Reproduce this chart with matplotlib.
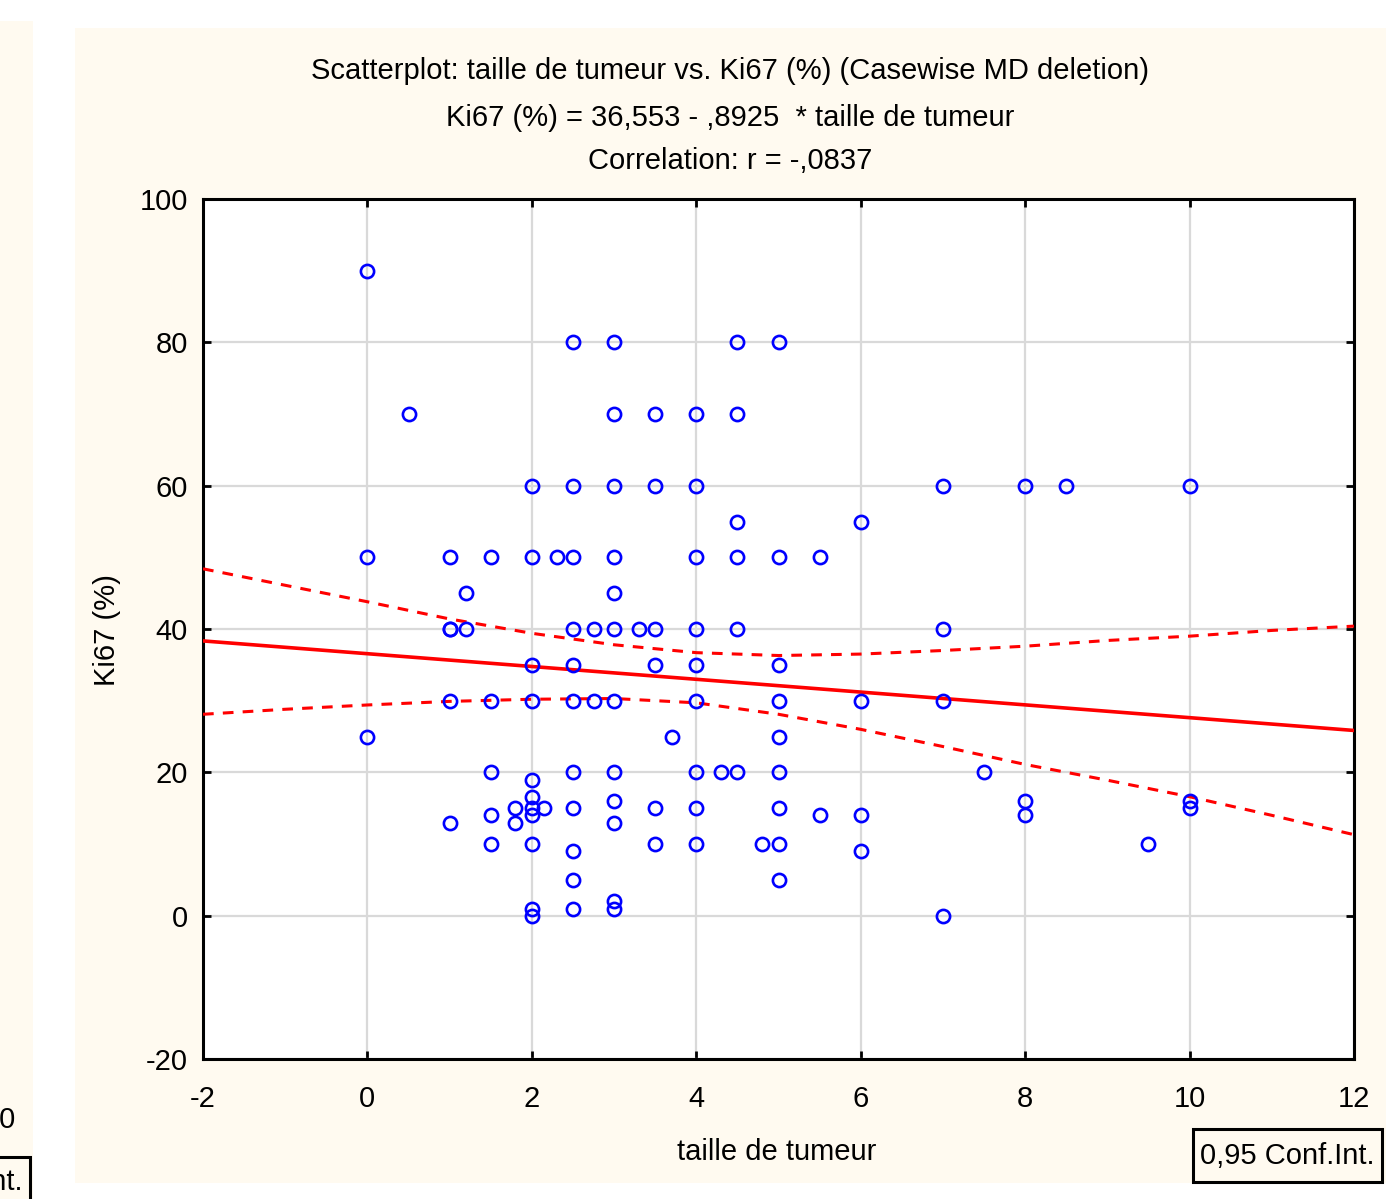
import numpy as np
import matplotlib
matplotlib.use("Agg")
import matplotlib.pyplot as plt
from matplotlib.patches import Rectangle

# ---------------- data ----------------
tumor_size = [0, 0, 0,
              0.5,
              1, 1, 1, 1, 1,
              1.2, 1.2,
              1.5, 1.5, 1.5, 1.5, 1.5,
              1.8, 1.8,
              2, 2, 2, 2, 2, 2, 2, 2, 2, 2, 2,
              2.15,
              2.3,
              2.5, 2.5, 2.5, 2.5, 2.5, 2.5, 2.5, 2.5, 2.5, 2.5, 2.5,
              2.75, 2.75,
              3, 3, 3, 3, 3, 3, 3, 3, 3, 3, 3, 3,
              3.3,
              3.5, 3.5, 3.5, 3.5, 3.5, 3.5,
              3.7,
              4, 4, 4, 4, 4, 4, 4, 4, 4,
              4.3,
              4.5, 4.5, 4.5, 4.5, 4.5, 4.5,
              4.8,
              5, 5, 5, 5, 5, 5, 5, 5, 5,
              5.5, 5.5,
              6, 6, 6, 6,
              7, 7, 7, 7,
              7.5,
              8, 8, 8,
              8.5,
              9.5,
              10, 10, 10]
ki67 = [90, 50, 25,
        70,
        50, 40, 40, 30, 13,
        45, 40,
        50, 30, 20, 14, 10,
        15, 13,
        60, 50, 35, 30, 19, 16.5, 15, 14, 10, 1, 0,
        15,
        50,
        80, 60, 50, 40, 35, 30, 20, 15, 9, 5, 1,
        40, 30,
        80, 70, 60, 50, 45, 40, 30, 20, 16, 13, 2, 1,
        40,
        70, 60, 40, 35, 15, 10,
        25,
        70, 60, 50, 40, 35, 30, 20, 15, 10,
        20,
        80, 70, 55, 50, 40, 20,
        10,
        80, 50, 35, 30, 25, 20, 15, 10, 5,
        50, 14,
        55, 30, 14, 9,
        60, 40, 30, 0,
        20,
        60, 16, 14,
        60,
        10,
        60, 16, 15]

# regression (from the chart's title)
intercept = 36.553
slope = -0.8925
r_value = -0.0837

# 0,95 confidence band
ci_x = [-2, -1, 0, 1, 2, 3, 4, 5, 6, 7, 8, 9, 10, 11, 12]
ci_upper = [48.4, 46.1, 43.8, 41.4, 39.4, 37.8, 36.7, 36.3, 36.5, 37.0, 37.6, 38.4, 39.0, 39.8, 40.4]
ci_lower = [28.1, 28.8, 29.4, 29.9, 30.2, 30.3, 29.7, 28.1, 26.0, 23.6, 21.1, 18.9, 16.6, 14.0, 11.3]

x_ticks = [-2, 0, 2, 4, 6, 8, 10, 12]
y_ticks = [-20, 0, 20, 40, 60, 80, 100]

title_lines = ["Scatterplot: taille de tumeur vs. Ki67 (%) (Casewise MD deletion)",
               "Ki67 (%) = 36,553 - ,8925  * taille de tumeur",
               "Correlation: r = -,0837"]
x_label = "taille de tumeur"
y_label = "Ki67 (%)"
legend_text = "0,95 Conf.Int."

# ---------------- figure ----------------
W, H = 1398, 1199
plt.rcParams['font.family'] = ['Liberation Sans', 'DejaVu Sans']
fig = plt.figure(figsize=(W / 100, H / 100), dpi=100, facecolor='white')

cream = '#FFFAF0'


def fx(x):
    return x / W


def fy(y):
    return 1 - y / H


# background panels (drawn beneath the axes)
fig.patches.append(Rectangle((fx(75), fy(1183)), (1386 - 75) / W, (1183 - 28) / H,
                             transform=fig.transFigure, facecolor=cream,
                             edgecolor='none', zorder=-5))
fig.patches.append(Rectangle((0, 0), 33 / W, fy(21),
                             transform=fig.transFigure, facecolor=cream,
                             edgecolor='none', zorder=-5))

ax = fig.add_axes([fx(203), fy(1059), (1354 - 203) / W, (1059 - 199) / H])
ax.set_zorder(1)
ax.set_facecolor('white')
ax.set_xlim(x_ticks[0], x_ticks[-1])
ax.set_ylim(y_ticks[0], y_ticks[-1])
ax.set_xticks(x_ticks)
ax.set_yticks(y_ticks)
ax.set_xticklabels([str(t) for t in x_ticks])
ax.set_yticklabels([str(t) for t in y_ticks])
ax.grid(True, color='#d9d9d9', linewidth=1.6)
ax.set_axisbelow(True)
for s in ax.spines.values():
    s.set_linewidth(2.2)
    s.set_color('black')
ax.tick_params(direction='in', length=6, width=2, top=True, right=True,
               labelsize=21, colors='black')
ax.tick_params(axis='x', pad=19)
ax.tick_params(axis='y', pad=11)
for lbl in ax.get_yticklabels():
    lbl.set_verticalalignment('center_baseline')

# regression line and confidence band
xx = np.array([x_ticks[0], x_ticks[-1]], float)
yy = intercept + slope * xx
ax.plot(xx, yy, color='#FF0000', lw=2.6, zorder=3)
ax.plot(ci_x, ci_upper, color='#FF0000', lw=2.2, ls=(0, (3.5, 3)), zorder=3)
ax.plot(ci_x, ci_lower, color='#FF0000', lw=2.2, ls=(0, (3.5, 3)), zorder=3)

ax.plot(tumor_size, ki67, linestyle='none', marker='o', markersize=9.5,
        markerfacecolor='none', markeredgecolor='#0000FF',
        markeredgewidth=1.9, zorder=4, clip_on=False)

# titles
title_y = [71, 118, 161]
for t, yv in zip(title_lines, title_y):
    fig.text(fx(730), fy(yv), t, ha='center', va='center', fontsize=21)

fig.text(fx(107), fy(630), y_label, rotation=90, ha='center', va='center', fontsize=21)
fig.text(fx(777), fy(1152), x_label, ha='center', va='center', fontsize=21)

# legend box
fig.patches.append(Rectangle((fx(1193), fy(1182)), (1382 - 1193) / W, (1182 - 1129) / H,
                             transform=fig.transFigure, facecolor=cream,
                             edgecolor='black', linewidth=2.2, zorder=2))
fig.text(fx(1287), fy(1156), legend_text, ha='center', va='center', fontsize=21)

# remnants of the neighbouring panel at the left edge
fig.text(fx(16), fy(1120), "10", ha='right', va='center', fontsize=21)
fig.patches.append(Rectangle((fx(-200), fy(1240)), 230 / W, 83 / H,
                             transform=fig.transFigure, facecolor=cream,
                             edgecolor='black', linewidth=2.2, zorder=2))
fig.text(fx(22), fy(1182), legend_text, ha='right', va='center', fontsize=21)

fig.savefig('out.png', dpi=100, facecolor='white')
